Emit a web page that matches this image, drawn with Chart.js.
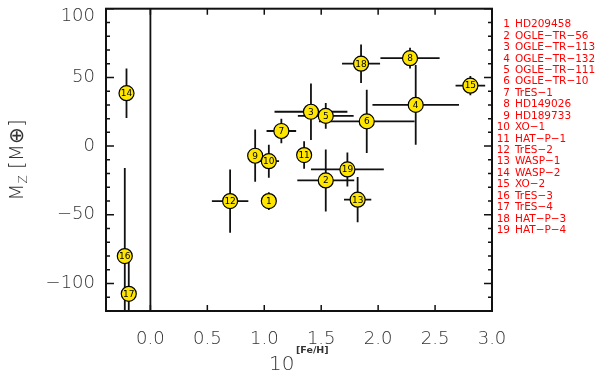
<!DOCTYPE html>
<html lang="en">
<head>
    <meta charset="UTF-8">
    <title>Heavy element mass vs metallicity</title>
    <script src="https://cdn.jsdelivr.net/npm/chart.js"></script>
    <style>
        body { margin: 0; background: #fff; }
        #wrap { width: 600px; height: 376px; }
    </style>
</head>
<body>
<div id="wrap"><canvas id="mzChart" width="600" height="376"></canvas></div>

<script>
    // planet numbers and names (legend on the right)
    const ids = [1, 2, 3, 4, 5, 6, 7, 8, 9, 10, 11, 12, 13, 14, 15, 16, 17, 18, 19];
    const names = ['HD209458', 'OGLE\u2212TR\u221256', 'OGLE\u2212TR\u2212113', 'OGLE\u2212TR\u2212132',
        'OGLE\u2212TR\u2212111', 'OGLE\u2212TR\u221210', 'TrES\u22121', 'HD149026', 'HD189733',
        'XO\u22121', 'HAT\u2212P\u22121', 'TrES\u22122', 'WASP\u22121', 'WASP\u22122', 'XO\u22122',
        'TrES\u22123', 'TrES\u22124', 'HAT\u2212P\u22123', 'HAT\u2212P\u22124'];

    // 10^[Fe/H] and its error
    const feh = [1.04, 1.54, 1.41, 2.33, 1.54, 1.90, 1.15, 2.28, 0.92, 1.04, 1.35, 0.70, 1.82, -0.21, 2.81, -0.225, -0.19, 1.85, 1.73];
    const fehErr = [0.03, 0.25, 0.32, 0.38, 0.245, 0.42, 0.13, 0.26, 0, 0.09, 0, 0.16, 0.12, 0, 0.13, 0, 0, 0.167, 0.32];

    // heavy element mass Mz (Earth masses) and its error
    const mz = [-40, -25, 25, 30, 22, 18, 11, 64, -7, -11, -6.5, -40, -39, 38.5, 44, -80, -107.5, 60, -17];
    const mzErr = [6.5, 22.6, 20.5, 29, 9.4, 23, 9, 7.5, 19, 12, 10, 23, 16.5, 18, 7, 64, 24, 14, 12.4];

    const xTicks = [0, 0.5, 1.0, 1.5, 2.0, 2.5, 3.0];
    const yTicks = [-100, -50, 0, 50, 100];

    const tickFont = { family: 'DejaVu Sans', size: 18, weight: '200' };
    const textColor = '#333';

    const points = feh.map((x, i) => ({ x: x, y: mz[i] }));
    const yLabel = v => (v < 0 ? '\u2212' + Math.abs(v) : String(v));

    const extras = {
        id: 'extras',
        beforeDatasetsDraw(chart) {
            const ctx = chart.ctx, a = chart.chartArea;
            const xs = chart.scales.x, ys = chart.scales.y;
            ctx.save();
            ctx.beginPath();
            ctx.rect(a.left, a.top, a.right - a.left, a.bottom - a.top);
            ctx.clip();
            ctx.strokeStyle = '#111';
            ctx.lineWidth = 1.8;
            // zero line
            const x0 = xs.getPixelForValue(0);
            ctx.beginPath();
            ctx.moveTo(x0, a.top);
            ctx.lineTo(x0, a.bottom);
            ctx.stroke();
            // error bars
            for (let i = 0; i < feh.length; i++) {
                const px = xs.getPixelForValue(feh[i]);
                const py = ys.getPixelForValue(mz[i]);
                ctx.beginPath();
                if (mzErr[i] > 0) {
                    ctx.moveTo(px, ys.getPixelForValue(mz[i] + mzErr[i]));
                    ctx.lineTo(px, ys.getPixelForValue(mz[i] - mzErr[i]));
                }
                if (fehErr[i] > 0) {
                    ctx.moveTo(xs.getPixelForValue(feh[i] - fehErr[i]), py);
                    ctx.lineTo(xs.getPixelForValue(feh[i] + fehErr[i]), py);
                }
                ctx.stroke();
            }
            ctx.restore();
        },
        afterDatasetsDraw(chart) {
            const ctx = chart.ctx;
            const xs = chart.scales.x, ys = chart.scales.y;
            ctx.save();
            ctx.fillStyle = '#000';
            ctx.font = '9px "DejaVu Sans"';
            ctx.textAlign = 'center';
            ctx.textBaseline = 'middle';
            for (let i = 0; i < ids.length; i++) {
                ctx.fillText(String(ids[i]), xs.getPixelForValue(feh[i]), ys.getPixelForValue(mz[i]) + 0.5);
            }
            ctx.restore();
        },
        afterDraw(chart) {
            const ctx = chart.ctx, a = chart.chartArea;
            const xs = chart.scales.x, ys = chart.scales.y;
            ctx.save();
            // frame
            ctx.strokeStyle = '#111';
            ctx.lineWidth = 2;
            ctx.strokeRect(a.left, a.top, a.right - a.left, a.bottom - a.top);
            // inward tick marks
            ctx.lineWidth = 1.5;
            ctx.beginPath();
            xTicks.forEach(v => {
                const px = xs.getPixelForValue(v);
                ctx.moveTo(px, a.bottom); ctx.lineTo(px, a.bottom - 6);
                ctx.moveTo(px, a.top); ctx.lineTo(px, a.top + 6);
            });
            for (let v = -120; v <= 100; v += 10) {
                const py = ys.getPixelForValue(v);
                const len = v % 50 === 0 ? 8 : 4;
                ctx.moveTo(a.left, py); ctx.lineTo(a.left + len, py);
                ctx.moveTo(a.right, py); ctx.lineTo(a.right - len, py);
            }
            ctx.stroke();

            // top y label sits a little below its tick so it stays on the page
            const top = yTicks[yTicks.length - 1];
            ctx.fillStyle = textColor;
            ctx.font = '200 18px "DejaVu Sans"';
            ctx.textAlign = 'right';
            ctx.textBaseline = 'middle';
            ctx.fillText(yLabel(top), a.left - 11, ys.getPixelForValue(top) + 8);

            // x axis title 10^[Fe/H]
            ctx.textBaseline = 'alphabetic';
            ctx.textAlign = 'left';
            ctx.font = '200 20px "DejaVu Sans"';
            ctx.fillText('10', 269, 370);
            ctx.font = 'bold 9.5px "DejaVu Sans"';
            ctx.fillText('[Fe/H]', 296, 353);

            // y axis title Mz [M⊕]
            ctx.translate(15.5, 160);
            ctx.rotate(-Math.PI / 2);
            ctx.font = '200 20px "DejaVu Sans"';
            ctx.textAlign = 'left';
            const w1 = ctx.measureText('M').width;
            ctx.font = '200 12px "DejaVu Sans"';
            const w2 = ctx.measureText('Z').width;
            ctx.font = '200 20px "DejaVu Sans"';
            const w3 = ctx.measureText(' [M\u2295]').width;
            const start = -(w1 + w2 + w3) / 2;
            ctx.fillText('M', start, 7);
            ctx.font = '200 12px "DejaVu Sans"';
            ctx.fillText('Z', start + w1, 11);
            ctx.font = '200 20px "DejaVu Sans"';
            ctx.fillText(' [M\u2295]', start + w1 + w2, 7);
            ctx.setTransform(1, 0, 0, 1, 0, 0);

            // legend of planet names
            ctx.fillStyle = '#ff0000';
            ctx.font = '10.5px "DejaVu Sans"';
            ctx.textBaseline = 'middle';
            for (let i = 0; i < ids.length; i++) {
                const yy = 24.5 + i * 11.43;
                ctx.textAlign = 'right';
                ctx.fillText(String(ids[i]), 510, yy);
                ctx.textAlign = 'left';
                ctx.fillText(names[i], 515, yy);
            }
            ctx.restore();
        }
    };

    new Chart(document.getElementById('mzChart'), {
        type: 'scatter',
        data: {
            datasets: [{
                data: points,
                pointRadius: 7.5,
                pointHoverRadius: 7.5,
                backgroundColor: '#ffe600',
                borderColor: '#000',
                borderWidth: 1.2
            }]
        },
        options: {
            responsive: false,
            animation: false,
            events: [],
            layout: { padding: { top: 7, right: 108, left: 0, bottom: 0 } },
            plugins: { legend: { display: false }, tooltip: { enabled: false } },
            scales: {
                x: {
                    type: 'linear',
                    min: -0.39,
                    max: 3.0,
                    afterFit(scale) {
                        scale.height = 65;
                        scale.paddingLeft = 0;
                        scale.paddingRight = 0;
                    },
                    grid: { display: false, drawTicks: false },
                    border: { display: false },
                    ticks: {
                        stepSize: 0.5,
                        includeBounds: false,
                        padding: 18,
                        color: textColor,
                        font: tickFont,
                        callback: v => (v < -0.01 ? '' : v.toFixed(1))
                    }
                },
                y: {
                    min: -120,
                    max: 100,
                    afterFit(scale) {
                        scale.width = 106;
                        scale.paddingTop = 0;
                        scale.paddingBottom = 0;
                    },
                    grid: { display: false, drawTicks: false },
                    border: { display: false },
                    ticks: {
                        stepSize: 50,
                        includeBounds: false,
                        padding: 11,
                        color: textColor,
                        font: tickFont,
                        // the top label is drawn by the plugin, shifted down
                        callback: v => (v >= yTicks[yTicks.length - 1] ? '' : yLabel(v))
                    }
                }
            }
        },
        plugins: [extras]
    });
</script>
</body>
</html>
